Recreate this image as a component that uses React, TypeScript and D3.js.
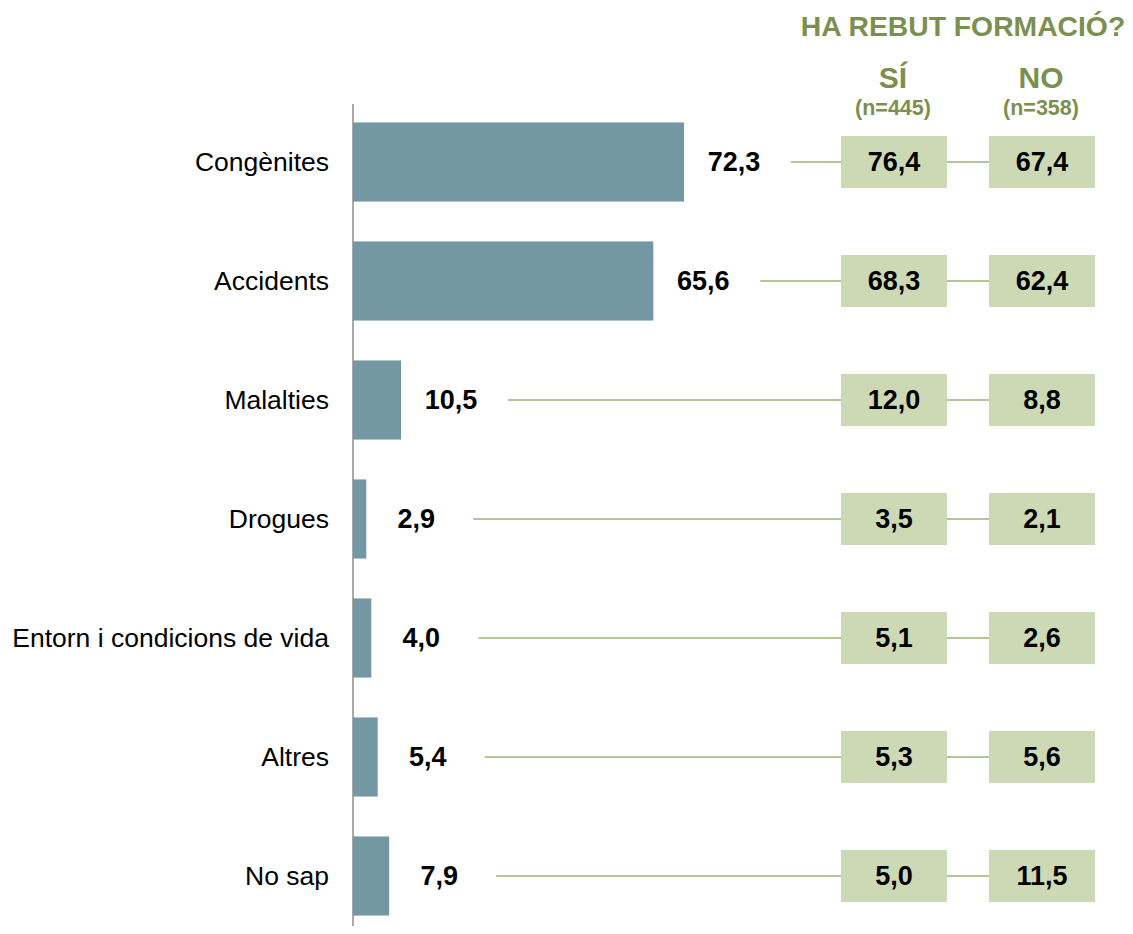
import React, { useEffect, useRef } from 'react';
import * as d3 from 'd3';

// Categories and totals
const categories = ['Congènites', 'Accidents', 'Malalties', 'Drogues', 'Entorn i condicions de vida', 'Altres', 'No sap'];
const totalValues = [72.3, 65.6, 10.5, 2.9, 4.0, 5.4, 7.9];
// Breakdown by "Ha rebut formació?"
const siValues = [76.4, 68.3, 12.0, 3.5, 5.1, 5.3, 5.0];
const noValues = [67.4, 62.4, 8.8, 2.1, 2.6, 5.6, 11.5];
const groupLabels = ['SÍ', 'NO'];
const groupN = ['(n=445)', '(n=358)'];
const headerTitle = 'HA REBUT FORMACIÓ?';

const fmt = (v: number) => v.toFixed(1).replace('.', ',');

const App = () => {
  const svgRef = useRef<SVGSVGElement | null>(null);

  useEffect(() => {
    const width = 1133;
    const height = 934;
    const axisX = 353;
    const font = 'Arial, "Liberation Sans", sans-serif';
    const green = '#7b8f4f';
    const boxFill = '#cdd9b4';
    const lineColor = '#b3c796';

    const svg = d3.select(svgRef.current)
      .attr('width', width)
      .attr('height', height)
      .style('display', 'block')
      .style('font-family', font);

    svg.selectAll('*').remove();

    const x = d3.scaleLinear().domain([0, 72.3]).range([axisX, 684]);
    const y = d3.scaleBand<string>()
      .domain(categories)
      .range([102.5, 935.5])
      .paddingInner(0.335)
      .paddingOuter(0.1675);

    const data = categories.map((c, i) => ({ c, total: totalValues[i], si: siValues[i], no: noValues[i] }));

    // Category labels
    svg.selectAll('text.cat')
      .data(data)
      .enter()
      .append('text')
      .attr('class', 'cat')
      .attr('x', 329)
      .attr('y', d => y(d.c)! + y.bandwidth() / 2)
      .attr('dy', '0.35em')
      .attr('text-anchor', 'end')
      .attr('font-size', '26.5px')
      .attr('fill', '#000')
      .text(d => d.c);

    // Bars
    svg.selectAll('rect.bar')
      .data(data)
      .enter()
      .append('rect')
      .attr('class', 'bar')
      .attr('x', x(0))
      .attr('y', d => y(d.c)!)
      .attr('width', d => x(d.total) - x(0))
      .attr('height', y.bandwidth())
      .attr('fill', '#7498a3');

    // Axis line
    svg.append('line')
      .attr('x1', axisX).attr('x2', axisX)
      .attr('y1', 104).attr('y2', height)
      .attr('stroke', '#8c8c8c')
      .attr('stroke-width', 1.5);

    // Value labels
    svg.selectAll('text.val')
      .data(data)
      .enter()
      .append('text')
      .attr('class', 'val')
      .attr('x', d => x(d.total) + 50)
      .attr('y', d => y(d.c)! + y.bandwidth() / 2)
      .attr('dy', '0.35em')
      .attr('text-anchor', 'middle')
      .attr('font-size', '27px')
      .attr('font-weight', 'bold')
      .attr('fill', '#000')
      .text(d => fmt(d.total));

    const boxX = [841, 989];
    const boxW = 106;
    const boxH = 52;

    // Connector lines
    svg.selectAll('line.conn')
      .data(data)
      .enter()
      .append('line')
      .attr('class', 'conn')
      .attr('x1', d => x(d.total) + 107)
      .attr('x2', boxX[1])
      .attr('y1', d => y(d.c)! + y.bandwidth() / 2)
      .attr('y2', d => y(d.c)! + y.bandwidth() / 2)
      .attr('stroke', lineColor)
      .attr('stroke-width', 2);

    // Boxes
    [0, 1].forEach(g => {
      const grp = svg.append('g');
      grp.selectAll('rect')
        .data(data)
        .enter()
        .append('rect')
        .attr('x', boxX[g])
        .attr('y', d => y(d.c)! + y.bandwidth() / 2 - boxH / 2)
        .attr('width', boxW)
        .attr('height', boxH)
        .attr('fill', boxFill);
      grp.selectAll('text')
        .data(data)
        .enter()
        .append('text')
        .attr('x', boxX[g] + boxW / 2)
        .attr('y', d => y(d.c)! + y.bandwidth() / 2)
        .attr('dy', '0.35em')
        .attr('text-anchor', 'middle')
        .attr('font-size', '27px')
        .attr('font-weight', 'bold')
        .attr('fill', '#000')
        .text(d => fmt(g === 0 ? d.si : d.no));

      // Group header
      svg.append('text')
        .attr('x', boxX[g] + boxW / 2 - 1)
        .attr('y', 88)
        .attr('text-anchor', 'middle')
        .attr('font-size', '30px')
        .attr('font-weight', 'bold')
        .attr('fill', green)
        .text(groupLabels[g]);
      svg.append('text')
        .attr('x', boxX[g] + boxW / 2 - 1)
        .attr('y', 115)
        .attr('text-anchor', 'middle')
        .attr('font-size', '21.5px')
        .attr('font-weight', 'bold')
        .attr('fill', green)
        .text(groupN[g]);
    });

    svg.append('text')
      .attr('x', 963)
      .attr('y', 36)
      .attr('text-anchor', 'middle')
      .attr('font-size', '28.3px')
      .attr('font-weight', 'bold')
      .attr('fill', green)
      .text(headerTitle);
  }, []);

  return (
    <div style={{ margin: -8 }}>
      <svg ref={svgRef}></svg>
    </div>
  );
};

export default App;
